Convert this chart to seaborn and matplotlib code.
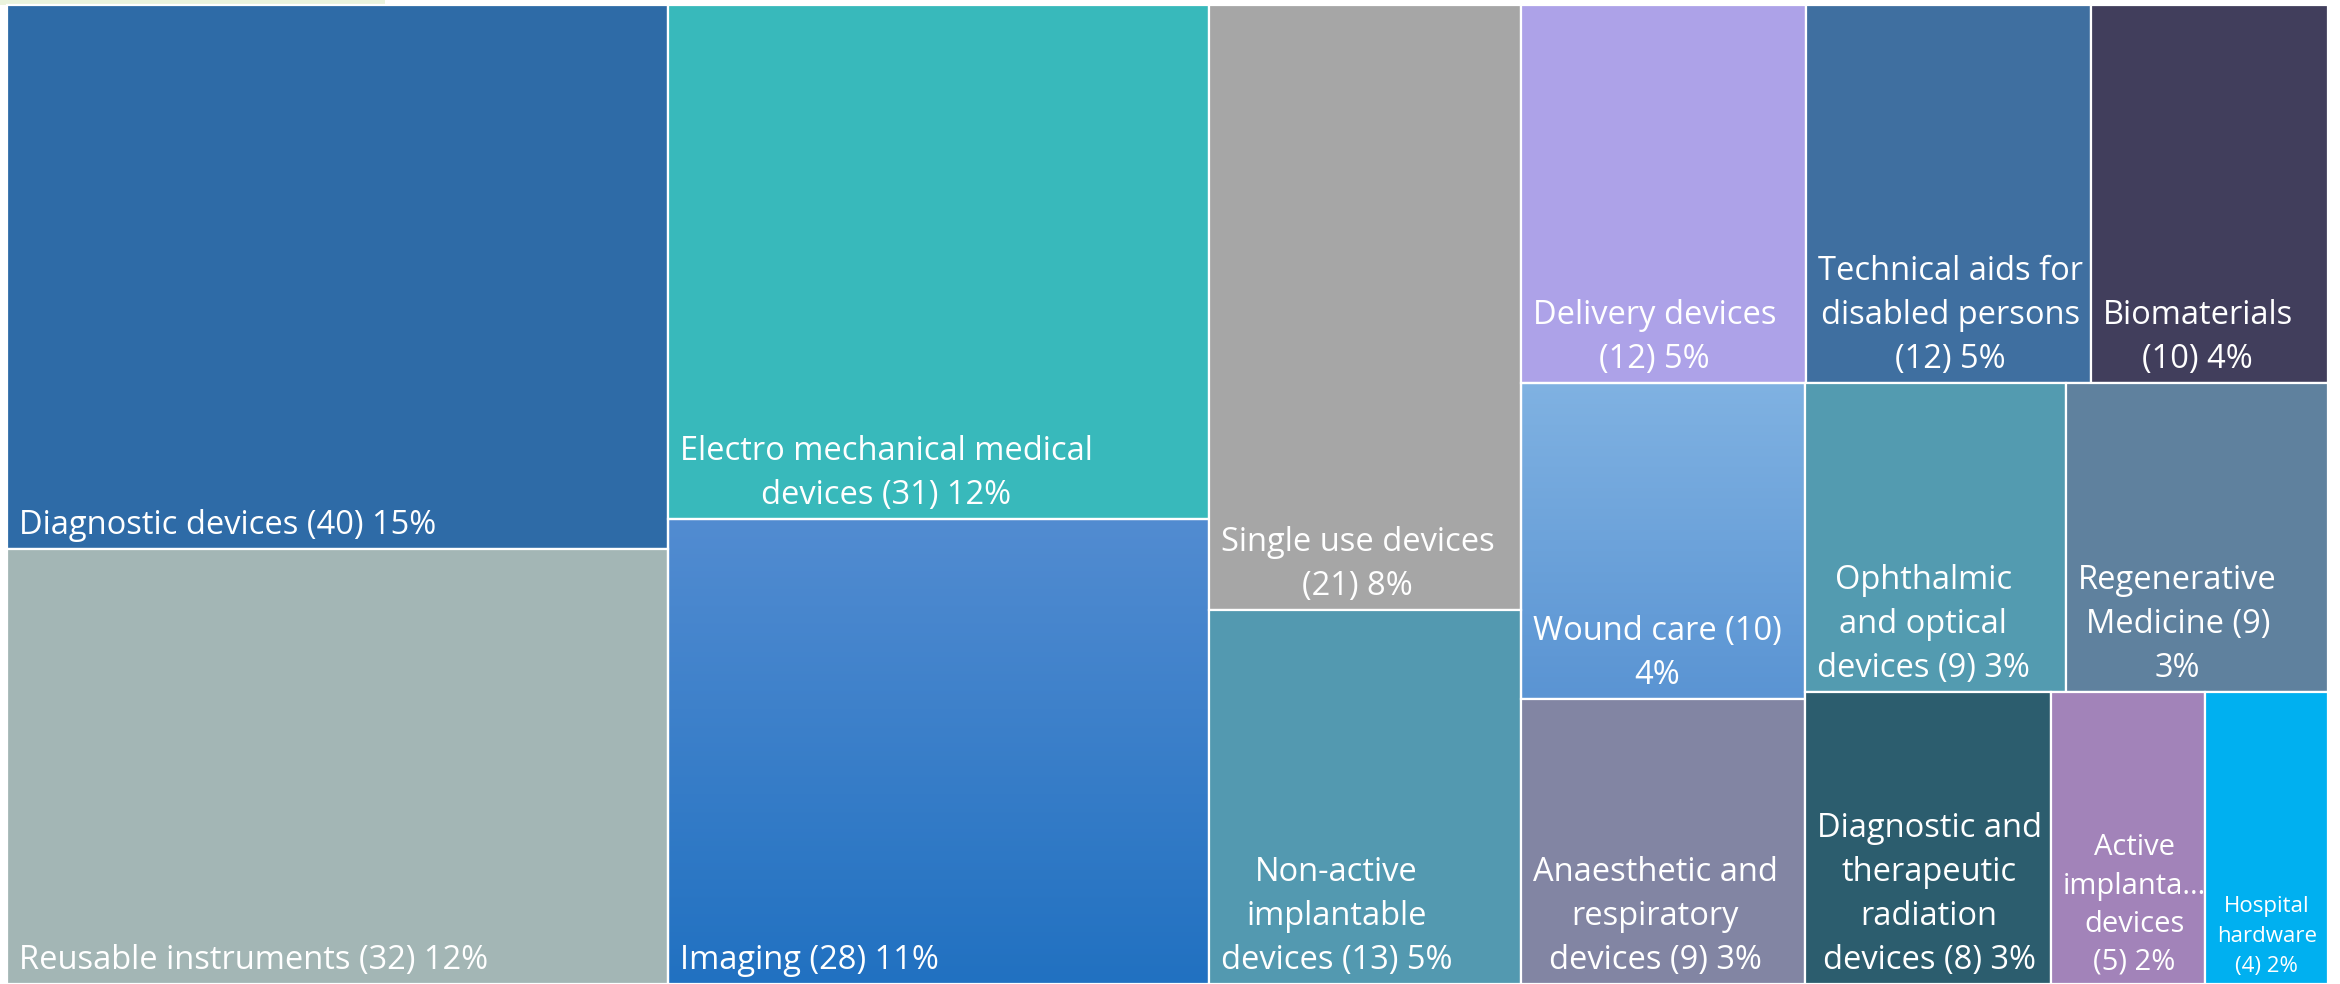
"""
Treemap of medical device categories (count and share), drawn with matplotlib patches on a seaborn theme
"""

import matplotlib
matplotlib.use("Agg")
import matplotlib.pyplot as plt
from matplotlib.patches import Rectangle
from matplotlib.colors import LinearSegmentedColormap
import numpy as np
import seaborn as sns

# Data
categories = [
    "Diagnostic devices", "Reusable instruments", "Electro mechanical medical devices",
    "Imaging", "Single use devices", "Non-active implantable devices",
    "Delivery devices", "Technical aids for disabled persons", "Biomaterials",
    "Wound care", "Anaesthetic and respiratory devices", "Ophthalmic and optical devices",
    "Regenerative Medicine", "Diagnostic and therapeutic radiation devices",
    "Active implantable devices", "Hospital hardware",
]
counts = [40, 32, 31, 28, 21, 13, 12, 12, 10, 10, 9, 9, 9, 8, 5, 4]
shares = ["15%", "12%", "12%", "11%", "8%", "5%", "5%", "5%", "4%", "4%",
          "3%", "3%", "3%", "3%", "2%", "2%"]

# label text as wrapped in the reference
label_text = [
    "Diagnostic devices (40) 15%",
    "Reusable instruments (32) 12%",
    "Electro mechanical medical\ndevices (31) 12%",
    "Imaging (28) 11%",
    "Single use devices\n(21) 8%",
    "Non-active\nimplantable\ndevices (13) 5%",
    "Delivery devices\n(12) 5%",
    "Technical aids for\ndisabled persons\n(12) 5%",
    "Biomaterials\n(10) 4%",
    "Wound care (10)\n4%",
    "Anaesthetic and\nrespiratory\ndevices (9) 3%",
    "Ophthalmic\nand optical\ndevices (9) 3%",
    "Regenerative\nMedicine (9)\n3%",
    "Diagnostic and\ntherapeutic\nradiation\ndevices (8) 3%",
    "Active\nimplanta...\ndevices\n(5) 2%",
    "Hospital\nhardware\n(4) 2%",
]

colors = [
    "#2E6BA7", "#A3B6B5", "#38B9BB", "#3A80C9", "#A6A6A6", "#5399B0",
    "#ADA2E8", "#3F6FA0", "#413E5C", "#6DA4DC", "#8285A3", "#539BB0",
    "#5F819E", "#2C5D6E", "#A283B9", "#00B0F0",
]
# a few tiles are shaded top -> bottom
gradients = {
    "Imaging": ("#528CD1", "#2171C1"),
    "Wound care": ("#80B2E2", "#5A94D3"),
}
# narrow tiles get a smaller label: (font size, line spacing)
label_style = {
    "Active implantable devices": (21, 1.42),
    "Hospital hardware": (16, 1.55),
}


def strip_cells(row, row_sum, remaining, x0, y0, dx, dy, across):
    """Cells of one strip: across=True lays them side by side along the top."""
    cells = []
    if across:
        th = dy * row_sum / remaining
        cx = x0
        for v in row:
            cw = dx * v / row_sum
            cells.append((cx, y0, cw, th))
            cx += cw
    else:
        tw = dx * row_sum / remaining
        cy = y0
        for v in row:
            ch = dy * v / row_sum
            cells.append((x0, cy, tw, ch))
            cy += ch
    return cells


def treemap(values, x0, y0, x1, y1, target=0.8):
    """Squarified layout aiming at width/height == target for every tile."""
    rects = []
    remaining = float(sum(values))
    i = 0
    while i < len(values):
        dx, dy = x1 - x0, y1 - y0
        across = dx < dy
        best = None
        j = i + 1
        while j <= len(values):
            row = values[i:j]
            cells = strip_cells(row, sum(row), remaining, x0, y0, dx, dy, across)
            score = max(max(w / h / target, target * h / w) for _, _, w, h in cells)
            if best is not None and score > best[0]:
                break
            best = (score, cells, row)
            j += 1
        _, cells, row = best
        rects.extend(cells)
        if across:
            y0 += cells[0][3]
        else:
            x0 += cells[0][2]
        remaining -= sum(row)
        i += len(row)
    return rects


sns.set_theme(style="white")
plt.rcParams["font.family"] = ["Open Sans", "DejaVu Sans"]

W, H = 2321, 979
fig = plt.figure(figsize=(23.4, 9.84), dpi=100)
fig.patch.set_facecolor("white")
ax = fig.add_axes([7 / 2340, 0, W / 2340, H / 984])

rects = treemap(counts, 0, 0, W, H)

for name, (x, y, w, h), col, txt in zip(categories, rects, colors, label_text):
    if name in gradients:
        cmap = LinearSegmentedColormap.from_list(name, gradients[name])
        ax.imshow(np.linspace(0, 1, 256).reshape(-1, 1), cmap=cmap, aspect="auto",
                  extent=(x, x + w, y + h, y), zorder=1, interpolation="bilinear")
        face = "none"
    else:
        face = col
    ax.add_patch(Rectangle((x, y), w, h, facecolor=face, edgecolor="white",
                           linewidth=1.6, zorder=2, clip_on=False))
    size, spacing = label_style.get(name, (23.5, 1.44))
    ax.text(x + 12, y + h - 7, txt, color="white", fontsize=size,
            ha="left", va="bottom", multialignment="center",
            linespacing=spacing, zorder=3)

ax.set_xlim(0, W)
ax.set_ylim(H, 0)
ax.axis("off")

# faint strip left over at the top-left of the page
fig.add_artist(Rectangle((0, 1 - 5 / 984), 385 / 2340, 5 / 984, transform=fig.transFigure,
                         facecolor="#EAF3DD", edgecolor="none", zorder=0))

plt.savefig("out.png", dpi=100, facecolor="white")
